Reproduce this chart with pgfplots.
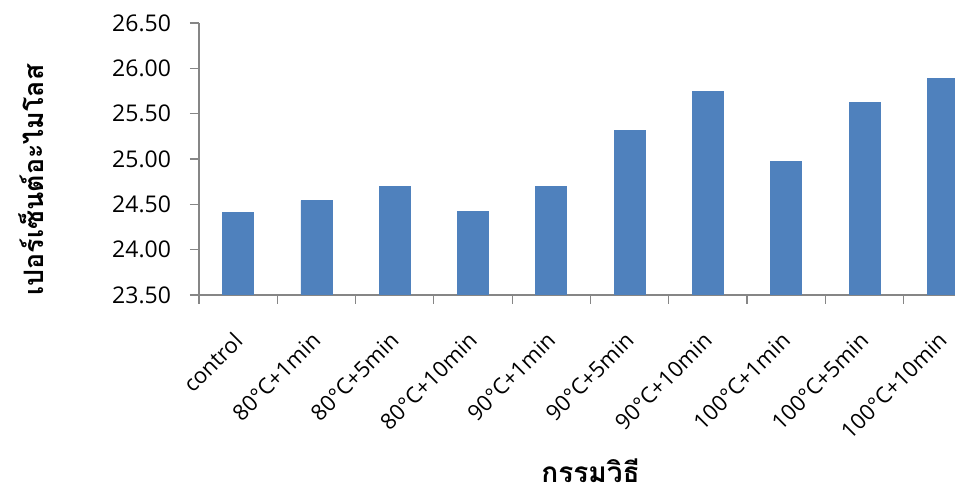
\documentclass[border=0pt]{standalone}
\usepackage{pgfplots}
\pgfplotsset{compat=1.18}
\usepackage{fontspec}
\setmainfont{Open Sans}
\newfontfamily\thaifont[Script=Thai]{Loma}
\definecolor{barblue}{HTML}{4F81BD}
\definecolor{axgray}{HTML}{868686}
\begin{document}
\begin{tikzpicture}
\useasboundingbox (-99.5pt,-96pt) rectangle (378pt,147.5pt);
\clip (-99.5pt,-96pt) rectangle (378pt,147.5pt);
\begin{axis}[
  scale only axis,
  width=391.5pt, height=136pt,
  xmin=-0.5, xmax=9.5, ymin=23.5, ymax=26.5,
  axis lines*=left,
  axis line style={draw=axgray, line width=0.6pt, -},
  tick style={draw=axgray, line width=0.6pt},
  tick align=outside,
  major tick length=4.5pt,
  ytick={23.5,24,24.5,25,25.5,26,26.5},
  yticklabel style={xshift=-6pt, /pgf/number format/fixed, /pgf/number format/fixed zerofill, /pgf/number format/precision=2, /pgf/number format/assume math mode=true, font=\fontsize{11.5}{13}\selectfont},
  xtick={-0.5,0.5,1.5,2.5,3.5,4.5,5.5,6.5,7.5,8.5,9.5},
  xticklabels={},
  extra x ticks={0,1,2,3,4,5,6,7,8,9},
  extra x tick labels={control,80°C+1min,80°C+5min,80°C+10min,90°C+1min,90°C+5min,90°C+10min,100°C+1min,100°C+5min,100°C+10min},
  extra x tick style={major tick length=0pt},
  xticklabel style={xshift=-3pt, yshift=-17.7pt, rotate=45, anchor=north east, inner sep=0pt, font=\fontsize{11}{13}\selectfont},
  ylabel={\thaifont\bfseries เปอร์เซ็นต์อะไมโลส},
  ylabel style={at={(axis description cs:-0.2146,0.4228)}, anchor=center, font=\fontsize{13.4}{16}\selectfont},
  xlabel={\thaifont\bfseries กรรมวิธี},
  xlabel style={at={(axis description cs:0.5,-0.645)}, anchor=center, font=\fontsize{14}{16}\selectfont},
]
\addplot[ybar, bar width=15.5pt, fill=barblue, draw=barblue] coordinates {
(0,24.41) (1,24.54) (2,24.70) (3,24.42) (4,24.70)
(5,25.31) (6,25.75) (7,24.97) (8,25.62) (9,25.89)};
\end{axis}
\end{tikzpicture}
\end{document}
